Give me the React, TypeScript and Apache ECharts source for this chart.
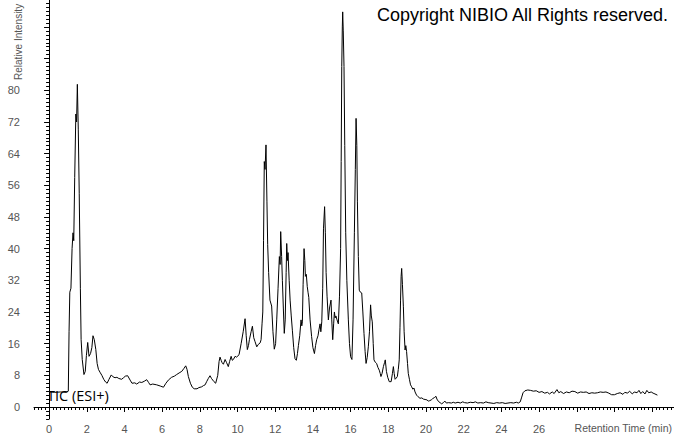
import React, { useEffect, useRef } from "react";
import * as echarts from "echarts";

const times: number[] = [
  0.0, 0.3, 0.6, 0.9, 1.02, 1.06, 1.1, 1.16, 1.22, 1.27, 1.31, 1.36, 1.42, 1.46, 1.5, 1.55, 1.6, 1.66, 1.7, 1.76,
  1.85, 1.92, 1.98, 2.05, 2.12, 2.2, 2.27, 2.33, 2.4, 2.48, 2.55, 2.62, 2.7, 2.8, 2.9, 3.0, 3.08, 3.18, 3.3, 3.4,
  3.5, 3.6, 3.7, 3.85, 3.95, 4.05, 4.17, 4.3, 4.4, 4.55, 4.65, 4.8, 4.92, 5.05, 5.18, 5.28, 5.36, 5.5, 5.71, 5.9,
  6.07, 6.2, 6.33, 6.5, 6.65, 6.77, 6.9, 7.04, 7.15, 7.25, 7.32, 7.39, 7.5, 7.6, 7.7, 7.85, 7.95, 8.1, 8.19, 8.28,
  8.36, 8.45, 8.54, 8.62, 8.75, 8.84, 8.95, 9.02, 9.07, 9.13, 9.18, 9.25, 9.34, 9.42, 9.51, 9.58, 9.66, 9.72, 9.78, 9.87,
  9.95, 10.08, 10.19, 10.3, 10.4, 10.46, 10.52, 10.58, 10.63, 10.72, 10.79, 10.86, 10.93, 11.02, 11.1, 11.2, 11.25, 11.3, 11.34, 11.38,
  11.42, 11.46, 11.51, 11.56, 11.6, 11.65, 11.72, 11.81, 11.88, 11.95, 12.02, 12.08, 12.15, 12.22, 12.26, 12.29, 12.34, 12.38, 12.43, 12.48,
  12.53, 12.58, 12.61, 12.65, 12.68, 12.74, 12.79, 12.85, 12.91, 12.98, 13.05, 13.12, 13.18, 13.23, 13.3, 13.37, 13.41, 13.44, 13.48, 13.53,
  13.57, 13.6, 13.65, 13.7, 13.74, 13.78, 13.85, 13.93, 14.0, 14.08, 14.14, 14.2, 14.27, 14.32, 14.38, 14.42, 14.47, 14.52, 14.56, 14.62,
  14.66, 14.7, 14.75, 14.82, 14.88, 14.96, 15.0, 15.05, 15.1, 15.14, 15.18, 15.22, 15.28, 15.35, 15.41, 15.47, 15.5, 15.53, 15.56, 15.58,
  15.61, 15.65, 15.69, 15.74, 15.8, 15.88, 15.94, 16.0, 16.07, 16.13, 16.2, 16.25, 16.29, 16.33, 16.36, 16.41, 16.46, 16.52, 16.59, 16.65,
  16.71, 16.77, 16.82, 16.88, 16.94, 17.0, 17.06, 17.1, 17.15, 17.2, 17.24, 17.31, 17.38, 17.45, 17.52, 17.57, 17.61, 17.67, 17.74, 17.8,
  17.84, 17.9, 17.97, 18.05, 18.15, 18.22, 18.27, 18.31, 18.36, 18.42, 18.48, 18.53, 18.58, 18.62, 18.65, 18.68, 18.71, 18.75, 18.8, 18.84,
  18.89, 18.93, 18.97, 19.02, 19.06, 19.12, 19.18, 19.24, 19.3, 19.36, 19.42, 19.5, 19.58, 19.68, 19.78, 19.86, 19.95, 20.05, 20.12, 20.2,
  20.28, 20.35, 20.45, 20.53, 20.58, 20.66, 20.75, 20.83, 20.92, 21.0, 21.08, 21.2, 21.35, 21.45, 21.55, 21.7, 21.82, 21.95, 22.05, 22.2,
  22.35, 22.5, 22.62, 22.75, 22.9, 23.05, 23.18, 23.3, 23.45, 23.6, 23.75, 23.9, 24.05, 24.2, 24.35, 24.5, 24.65, 24.8, 24.9, 25.0,
  25.08, 25.15, 25.25, 25.4, 25.55, 25.7, 25.85, 26.0, 26.15, 26.3, 26.45, 26.55, 26.7, 26.8, 26.95, 27.05, 27.15, 27.3, 27.45, 27.6,
  27.75, 27.9, 28.05, 28.2, 28.35, 28.5, 28.65, 28.8, 28.95, 29.1, 29.25, 29.4, 29.55, 29.7, 29.85, 30.0, 30.15, 30.3, 30.45, 30.55,
  30.7, 30.8, 30.95, 31.05, 31.2, 31.3, 31.4, 31.5, 31.62, 31.72, 31.82, 31.95, 32.05, 32.15, 32.28,
];

const intensity: number[] = [
  3.8, 3.7, 3.8, 3.7, 4.0, 19, 29, 30, 40, 44, 42, 58, 74, 72, 81.5, 70, 54, 30, 17, 12,
  8.2, 9, 13, 16.3, 12.8, 13.5, 15, 18, 17, 14.5, 11, 9.5, 8.8, 8, 7, 6.3, 6, 7, 8.1, 7.6,
  7.4, 7.5, 7.2, 7, 7.4, 7.8, 7.9, 6.8, 6, 6.1, 5.8, 6.3, 6.2, 6.5, 6.9, 6.2, 5.6, 5.8, 5.6, 5.3,
  5, 6, 6.8, 7.5, 7.8, 8.2, 8.6, 9, 9.7, 10.4, 9.5, 7.7, 6, 5, 4.6, 4.6, 4.9, 5.1, 5.4, 5.6,
  6.4, 7.2, 7.9, 7.2, 6.4, 6, 8, 11.5, 12.6, 11.8, 11.2, 10.8, 12, 11.2, 10.2, 11.5, 12.8, 11.8, 12, 12.8,
  12.6, 13.2, 16, 19, 22.3, 18, 14.5, 15.5, 17, 19, 20.4, 17.5, 16.5, 15.2, 15.8, 16.2, 17, 21, 24, 42,
  62, 60, 66.2, 52, 41, 34, 27, 25.5, 19, 14.6, 16, 22, 30, 38, 36, 44.3, 38, 32, 25, 18.6,
  22, 34, 41.3, 37, 39, 32, 27, 23, 19.4, 15, 12.2, 11.8, 13.5, 15.5, 18, 22, 20.5, 21.5, 31, 40,
  37, 33, 33.5, 30.4, 29, 27.7, 22, 17.8, 15, 13.5, 15.5, 17, 18, 19.5, 21, 19, 21.5, 30, 45, 50.6,
  44, 34, 28, 22, 25, 27, 22, 17, 21, 24, 22.5, 23, 22, 21, 28, 40, 62, 86, 96, 99.8,
  95, 86, 66, 44, 32, 22, 16, 12.7, 12, 22, 44, 60, 72.9, 66, 52, 38, 29.5, 29, 28.8, 24,
  18.6, 14, 11, 12.5, 15.2, 19, 25.8, 23, 21.5, 16, 11.9, 11.3, 11, 10, 9.3, 8.5, 7.7, 8.5, 10.2, 11.2,
  11.9, 9, 7.5, 6.4, 6.4, 8.5, 10.2, 8.5, 7, 7.3, 7.7, 9.5, 11.9, 20, 27, 33, 35, 31, 25.3, 19,
  14.4, 15.5, 14, 11, 8.5, 7, 5.6, 5.1, 4.5, 4.8, 3.8, 3, 2.6, 2.2, 2.3, 2, 1.9, 1.8, 1.5, 1.6,
  1.8, 2.1, 2.4, 2.7, 2, 1.4, 1.1, 0.8, 1.1, 1.5, 1.0, 1.1, 1.0, 1.2, 1.0, 1.2, 1.0, 1.3, 1.1, 1.0,
  1.2, 1.1, 1.3, 1.0, 1.1, 1.0, 1.3, 1.1, 1.0, 0.9, 1.1, 1.0, 1.1, 0.9, 1.0, 1.1, 1.0, 1.2, 1.0, 1.3,
  2.5, 3.6, 4.1, 4.3, 4.2, 4.0, 4.1, 3.7, 3.9, 3.5, 3.7, 3.3, 3.8, 3.4, 4.4, 3.6, 3.9, 3.4, 3.8, 3.6,
  4.0, 3.9, 3.5, 3.8, 3.7, 3.8, 3.4, 3.6, 3.5, 3.6, 3.8, 3.7, 3.8, 3.5, 3.1, 3.1, 3.4, 3.6, 3.2, 3.7,
  3.5, 4.0, 3.3, 3.8, 3.6, 4.2, 3.4, 3.9, 3.3, 4.2, 3.6, 3.8, 3.5, 3.3, 3.0,
];

const yLabelValues: number[] = [0, 8, 16, 24, 32, 40, 48, 56, 64, 72, 80];
const yMajorTicks: number[] = [0, 8, 16, 24, 32, 40, 48, 56, 64, 72, 80, 88, 96];
const xLabelValues: number[] = [0, 2, 4, 6, 8, 10, 12, 14, 16, 18, 20, 22, 24, 26];
const xMajorTicks: number[] = [0, 2, 4, 6, 8, 10, 12, 14, 16, 18, 20, 22, 24, 26, 28, 30, 32];

const X_MIN = -0.8;
const X_MAX = 33.16;
const Y_MIN = -3.03;
const Y_MAX = 102.8;

function range(start: number, end: number, step: number): number[] {
  const out: number[] = [];
  const n = Math.floor((end - start) / step + 1e-9);
  for (let i = 0; i <= n; i++) out.push(Math.round((start + i * step) * 100) / 100);
  return out;
}

export default function App() {
  const ref = useRef<HTMLDivElement>(null);

  useEffect(() => {
    if (!ref.current) return;
    const chart = echarts.init(ref.current, null, { renderer: "svg" });
    const data = times.map((t, i) => [t, intensity[i]]);
    const xMinor = range(-0.8, 33.0, 0.2);
    const yMinor = range(-3, 102, 1);
    const labelFont = { color: "#555", fontFamily: "Liberation Sans, Arial, sans-serif", fontSize: 11 };

    chart.setOption({
      animation: false,
      backgroundColor: "#ffffff",
      grid: { left: 34, right: 0, top: 0, bottom: 15, containLabel: false },
      xAxis: [
        {
          type: "value",
          min: X_MIN,
          max: X_MAX,
          axisLine: { show: true, lineStyle: { color: "#000", width: 1 } },
          axisTick: { show: true, customValues: xMajorTicks, length: 5, lineStyle: { color: "#000" } },
          axisLabel: { show: true, customValues: xLabelValues, margin: 4, ...labelFont },
          splitLine: { show: false },
        },
        {
          type: "value",
          min: X_MIN,
          max: X_MAX,
          position: "bottom",
          axisLine: { show: false },
          axisTick: { show: true, customValues: xMinor, length: 3, lineStyle: { color: "#000" } },
          axisLabel: { show: false },
          splitLine: { show: false },
        },
      ],
      yAxis: [
        {
          type: "value",
          min: Y_MIN,
          max: Y_MAX,
          axisLine: { show: true, lineStyle: { color: "#000", width: 1 } },
          axisTick: { show: true, customValues: yMajorTicks, length: 5, lineStyle: { color: "#000" } },
          axisLabel: { show: true, customValues: yLabelValues, margin: 14, ...labelFont },
          splitLine: { show: false },
        },
        {
          type: "value",
          min: Y_MIN,
          max: Y_MAX,
          position: "left",
          axisLine: { show: false },
          axisTick: { show: true, customValues: yMinor, length: 3, lineStyle: { color: "#000" } },
          axisLabel: { show: false },
          splitLine: { show: false },
        },
      ],
      series: [
        {
          type: "line",
          data,
          xAxisIndex: 0,
          yAxisIndex: 0,
          showSymbol: false,
          symbol: "none",
          lineStyle: { color: "#000", width: 1 },
          silent: true,
        },
      ],
      graphic: [
        {
          type: "text",
          x: 377,
          y: 15,
          style: {
            text: "Copyright NIBIO All Rights reserved.",
            fill: "#000",
            font: "18px 'Liberation Sans', Arial, sans-serif",
            verticalAlign: "middle",
          },
        },
        {
          type: "text",
          x: 47,
          y: 395,
          style: {
            text: "TIC (ESI+)",
            fill: "#000",
            font: "14.5px 'Open Sans', sans-serif",
            verticalAlign: "middle",
          },
        },
        {
          type: "text",
          x: 672,
          y: 428,
          style: {
            text: "Retention Time (min)",
            fill: "#555",
            font: "10.5px 'Liberation Sans', Arial, sans-serif",
            verticalAlign: "middle",
            align: "right",
          },
        },
        {
          type: "text",
          x: 18,
          y: 80,
          rotation: Math.PI / 2,
          style: {
            text: "Relative Intensity",
            fill: "#555",
            font: "10px 'Liberation Sans', Arial, sans-serif",
            verticalAlign: "middle",
            align: "left",
          },
        },
      ],
    });

    return () => {
      chart.dispose();
    };
  }, []);

  return (
    <div
      ref={ref}
      style={{ position: "fixed", left: 0, top: 0, width: 674, height: 434, background: "#fff" }}
    />
  );
}
